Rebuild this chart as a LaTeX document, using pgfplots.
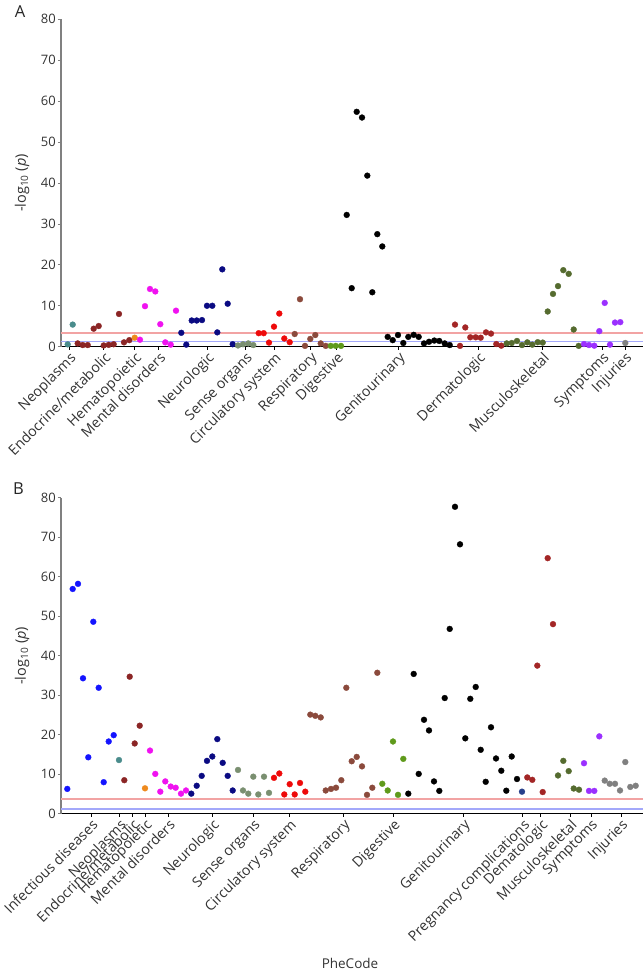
\documentclass[border=0pt]{standalone}
\usepackage{pgfplots}
\pgfplotsset{compat=1.18}
\usepackage{fontspec}
\setmainfont{Open Sans}
\definecolor{cInf}{HTML}{1414FF}
\definecolor{cNeo}{HTML}{4A8C8C}
\definecolor{cEnd}{HTML}{8B2525}
\definecolor{cHem}{HTML}{EE8A1E}
\definecolor{cMen}{HTML}{F012F0}
\definecolor{cNeu}{HTML}{0A0A82}
\definecolor{cSen}{HTML}{7A8F70}
\definecolor{cCir}{HTML}{EE0A0A}
\definecolor{cRes}{HTML}{8B4A3C}
\definecolor{cDig}{HTML}{5F9A1B}
\definecolor{cGen}{HTML}{000000}
\definecolor{cPre}{HTML}{27408B}
\definecolor{cDer}{HTML}{A32626}
\definecolor{cMus}{HTML}{556B2F}
\definecolor{cSym}{HTML}{9B30FF}
\definecolor{cInj}{HTML}{808080}
\definecolor{lineRed}{HTML}{F2A3A3}
\definecolor{lineBlue}{HTML}{A3A8FA}
\pgfplotsset{
  phe/.style={
    scale only axis, width=582pt, xmin=61, xmax=643, ymin=0, ymax=80,
    axis lines*=left, ytick={0,10,...,80},
    y axis line style={draw=black!50, line width=1.6pt},
    x axis line style={draw=black, line width=1pt},
    tick align=outside, major tick length=3pt,
    ytick style={draw=black!50, line width=0.8pt},
    xtick style={draw=black, line width=0.6pt},
    yticklabel style={font=\fontsize{13}{15}\selectfont, text=black!80, inner sep=2pt},
    /pgf/number format/assume math mode=true,
    xticklabel style={rotate=45, anchor=north east, inner sep=1pt,
      font=\fontsize{14.2}{16}\selectfont, text=black!80},
    ylabel={-log\textsubscript{10} (\textit{p})},
    ylabel style={at={(axis description cs:-0.067,0.5)}, anchor=center,
      font=\fontsize{14.5}{16}\selectfont, text=black!80},
  },
  cat/.style={only marks, mark=*, mark size=2.95pt,
    mark options={solid, fill=#1, draw=#1, line width=0.3pt}},
  hl/.style={no marks, line width=1.5pt, color=#1},
}
\begin{document}
\begin{tikzpicture}
\path[use as bounding box] (0,0) rectangle (643pt,978pt);
% ---------------- Panel A ----------------
\begin{axis}[phe, height=327.4pt, at={(61pt,631.3pt)}, anchor=south west,
  xtick={69,103.7,134.7,158.7,207,245.7,274,310.3,336.7,398.3,478.3,542.3,602.3,625},
  xticklabels={Neoplasms,Endocrine/metabolic,Hematopoietic,Mental disorders,Neurologic,Sense organs,Circulatory system,Respiratory,Digestive,Genitourinary,Dermatologic,Musculoskeletal,Symptoms,Injuries}]
\addplot[hl=lineRed] coordinates {(61,3.4) (643,3.4)};
\addplot[hl=lineBlue] coordinates {(61,1.3) (643,1.3)};
\addplot[cat=cNeo] coordinates {(67.7,0.57) (72.7,5.4)};
\addplot[cat=cEnd] coordinates {(77.7,0.8) (82.7,0.4) (87.7,0.4) (93.7,4.4) (98.7,5.05) (103.7,0.3) (108.7,0.45) (113.7,0.6) (119,8.0) (124,1.06) (129.3,1.6)};
\addplot[cat=cHem] coordinates {(134.7,2.2)};
\addplot[cat=cMen] coordinates {(140,1.7) (145,9.9) (150,14.1) (155.3,13.5) (160.3,5.5) (165.3,1.06) (170.7,0.5) (176,8.8)};
\addplot[cat=cNeu] coordinates {(181.3,3.4) (186.3,0.5) (191.7,6.4) (196.7,6.4) (202,6.5) (207,10.0) (212.3,10.0) (217.3,3.5) (222.3,18.9) (227.7,10.5) (232.7,0.6)};
\addplot[cat=cSen] coordinates {(238,0.3) (243,0.6) (248.3,0.8) (253.3,0.4)};
\addplot[cat=cCir] coordinates {(258.7,3.3) (263.7,3.3) (269,1.0) (274,4.9) (279.3,8.1) (284.3,2.0) (289.7,1.1)};
\addplot[cat=cRes] coordinates {(294.7,3.1) (300,11.6) (305,0.2) (310.3,1.9) (315.3,2.85) (320.7,0.8) (325.7,0.2)};
\addplot[cat=cDig] coordinates {(330.7,0.2) (335.7,0.2) (341,0.2)};
\addplot[cat=cGen] coordinates {(346.7,32.2) (351.7,14.3) (356.7,57.4) (362,56.0) (367.3,41.8) (372.3,13.3) (377.3,27.5) (382.3,24.5) (387.7,2.4) (392.7,1.6) (398,2.85) (403.3,0.9) (408.3,2.4) (413.7,2.9) (418.7,2.4) (424,0.8) (429,1.2) (434.3,1.5) (439.3,1.4) (444.7,0.8) (449.7,0.4)};
\addplot[cat=cDer] coordinates {(455,5.4) (460,0.2) (465.3,4.7) (470.3,2.3) (475.7,2.3) (480.7,2.2) (486,3.5) (491,3.2) (496.3,0.65) (501.3,0.25)};
\addplot[cat=cMus] coordinates {(506.7,0.8) (511.7,0.9) (517,1.4) (522,0.4) (527.3,1.06) (532.3,0.5) (537.7,1.1) (542.7,1.0) (547.7,8.6) (553,12.9) (558,14.8) (563.3,18.7) (568.7,17.8) (573.7,4.2) (578.7,0.2)};
\addplot[cat=cSym] coordinates {(584,0.65) (589,0.4) (594.3,0.25) (599.3,3.8) (604.7,10.7) (610,0.5) (615,5.9) (620.3,6.0)};
\addplot[cat=cInj] coordinates {(625.3,0.9)};
\end{axis}
% ---------------- Panel B ----------------
\begin{axis}[phe, height=316.1pt, at={(61pt,164.2pt)}, anchor=south west,
  xtick={91,119.3,132.3,145.3,168.3,212.3,253.3,289.3,343.3,393.3,463.3,522.7,540.7,570,591,621},
  xticklabels={Infectious diseases,Neoplasms,Endocrine/metabolic,Hematopoietic,Mental disorders,Neurologic,Sense organs,Circulatory system,Respiratory,Digestive,Genitourinary,Pregnancy complications,Dematologic,Musculoskeletal,Symptoms,Injuries}]
\addplot[hl=lineRed] coordinates {(61,3.75) (643,3.75)};
\addplot[hl=lineBlue] coordinates {(61,1.2) (643,1.2)};
\addplot[cat=cInf] coordinates {(67.3,6.3) (72.7,56.9) (78,58.2) (83,34.3) (88.3,14.3) (93.3,48.6) (98.7,31.9) (103.7,8.0) (108.7,18.3) (113.7,19.9)};
\addplot[cat=cNeo] coordinates {(119,13.6)};
\addplot[cat=cEnd] coordinates {(124.3,8.5) (129.7,34.7) (134.7,17.8) (139.7,22.3)};
\addplot[cat=cHem] coordinates {(145,6.45)};
\addplot[cat=cMen] coordinates {(150,16.0) (155.3,10.1) (160.3,5.6) (165.3,8.2) (170.7,6.9) (175.7,6.6) (181,5.1) (186,5.9)};
\addplot[cat=cNeu] coordinates {(191.3,5.1) (196.7,7.1) (201.7,9.6) (207,13.4) (212.3,14.5) (217.3,18.9) (222.7,12.9) (227.7,9.6) (232.7,5.9)};
\addplot[cat=cSen] coordinates {(238,11.1) (243,5.9) (248.3,5.1) (253.3,9.4) (258.3,4.9) (264,9.4) (269,5.3)};
\addplot[cat=cCir] coordinates {(274,9.1) (279.3,10.2) (284.3,4.9) (289.7,7.5) (294.7,4.9) (300,7.8) (305.3,5.6)};
\addplot[cat=cRes] coordinates {(310.3,25.1) (315.3,24.8) (320.7,24.4) (325.7,5.9) (331,6.3) (336,6.6) (341.3,8.5) (346.3,31.9) (351.7,13.3) (356.7,14.4) (362,12.0) (367,4.8) (372.3,6.6) (377.3,35.7)};
\addplot[cat=cDig] coordinates {(382.3,7.6) (387.7,5.9) (393,18.3) (398,4.8) (403.3,13.9)};
\addplot[cat=cGen] coordinates {(408.3,5.1) (413.7,35.4) (418.7,10.1) (424,23.8) (429,21.1) (434,8.2) (439.3,5.8) (444.7,29.3) (449.7,46.8) (455,77.7) (460,68.2) (465.3,19.1) (470.3,29.1) (475.7,32.1) (480.7,16.2) (485.7,8.1) (491,21.9) (496,14.0) (501.3,10.9) (506.3,5.85) (511.7,14.5) (517,8.8)};
\addplot[cat=cPre] coordinates {(522,5.6)};
\addplot[cat=cDer] coordinates {(527.3,9.2) (532.3,8.6) (537.3,37.5) (542.7,5.5) (547.7,64.7) (553,48.0)};
\addplot[cat=cMus] coordinates {(558,9.7) (563.3,13.4) (568.7,10.8) (573.7,6.4) (579,6.1)};
\addplot[cat=cSym] coordinates {(584,12.8) (589,5.8) (594.3,5.8) (599.3,19.6)};
\addplot[cat=cInj] coordinates {(604.7,8.4) (609.7,7.6) (615,7.6) (620,5.9) (625.3,13.1) (630.3,6.8) (635.7,7.1)};
\end{axis}
\node[font=\fontsize{16.5}{18}\selectfont, text=black!85] at (20pt,966pt) {A};
\node[font=\fontsize{16.5}{18}\selectfont, text=black!85] at (18.5pt,489.5pt) {B};
\node[font=\fontsize{13.5}{15}\selectfont, text=black!80] at (350pt,15pt) {PheCode};
\end{tikzpicture}
\end{document}
